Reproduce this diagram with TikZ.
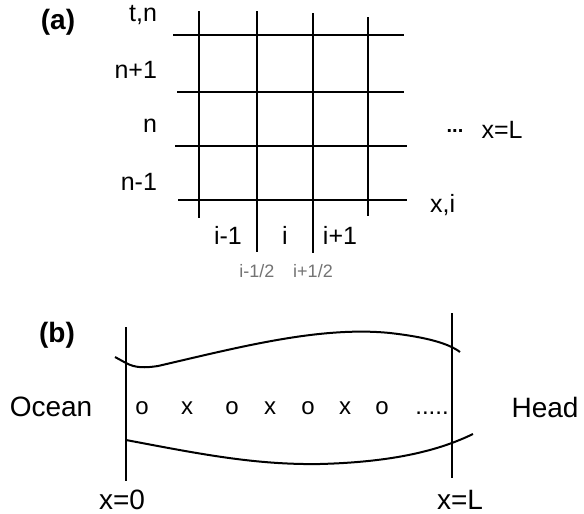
\documentclass[tikz,border=0pt]{standalone}
\usepackage{fontspec}
\setmainfont{Liberation Sans}
\usetikzlibrary{positioning}

\begin{document}
\begin{tikzpicture}[x=0.5pt,y=-0.5pt,font=\fontsize{12.5}{15}\selectfont,
  gridline/.style={line width=1.3pt},
  shoreline/.style={line width=1pt},
  halflbl/.style={font=\fontsize{9}{11}\selectfont,text=black!55},
  biglbl/.style={font=\fontsize{14}{17}\selectfont},
  marker/.style={anchor=base,font=\fontsize{12}{14}\selectfont}]
\useasboundingbox (0,0) rectangle (584,514);
% (a) space-time grid, cells i-1,i,i+1 and levels n-1,n,n+1
\foreach \y/\xa/\xb in {35/173/404, 92/177/404, 146/175/407, 200/178/407}
  \draw[gridline] (\xa,\y) -- (\xb,\y);
\foreach \x/\ya/\yb in {199/11/218, 257/11/252, 313/13/253, 368/17/216}
  \draw[gridline] (\x,\ya) -- (\x,\yb);
\node[biglbl,font=\fontsize{14}{17}\selectfont\bfseries] (tagA) at (58,22) {(a)};
\node[anchor=east] (tn) at (164,15) {t,n};
\node[anchor=east] (np) at (164,70) {n+1};
\node[anchor=east] (nn) at (164,126) {n};
\node[anchor=east] (nm) at (164,182) {n-1};
\node (im) at (228,235) {i-1};
\node (ii) at (285,235) {i};
\node (ip) at (340,235) {i+1};
\node[anchor=west] (xi) at (423,205) {x,i};
\node[halflbl] (ihm) at (257,271) {i-1/2};
\node[halflbl] (ihp) at (313,271) {i+1/2};
\node[font=\fontsize{10}{11}\selectfont\bfseries] (dotsA) at (455,131) {...};
\node (xLa) at (502,130) {x=L};
% (b) estuary between ocean and head
\node[font=\fontsize{14}{17}\selectfont\bfseries] (tagB) at (57,335) {(b)};
\draw[gridline] (126,327) -- (126,481);
\draw[gridline] (452,313) -- (452,478);
\draw[shoreline] (115,357) -- (126,363) .. controls (135,368) and (145,368) .. (158,366)
  .. controls (240,347) and (320,326) .. (390,333) .. controls (425,337) and (448,343) .. (460,352);
\draw[shoreline] (126,440) .. controls (200,454) and (255,465) .. (320,464)
  .. controls (395,462) and (440,450) .. (473,434);
\foreach \x/\m in {142/o, 187/x, 232/o, 270/x, 308/o, 345/x, 382/o}
  \node[marker] at (\x,414) {\m};
\node[marker] (dotsB) at (432,414) {.....};
\node[biglbl] (ocean) at (51,407) {Ocean};
\node[biglbl] (head) at (545,407) {Head};
\node[biglbl] (x0) at (122,500) {x=0};
\node[biglbl] (xLb) at (460,500) {x=L};
\end{tikzpicture}
\end{document}
